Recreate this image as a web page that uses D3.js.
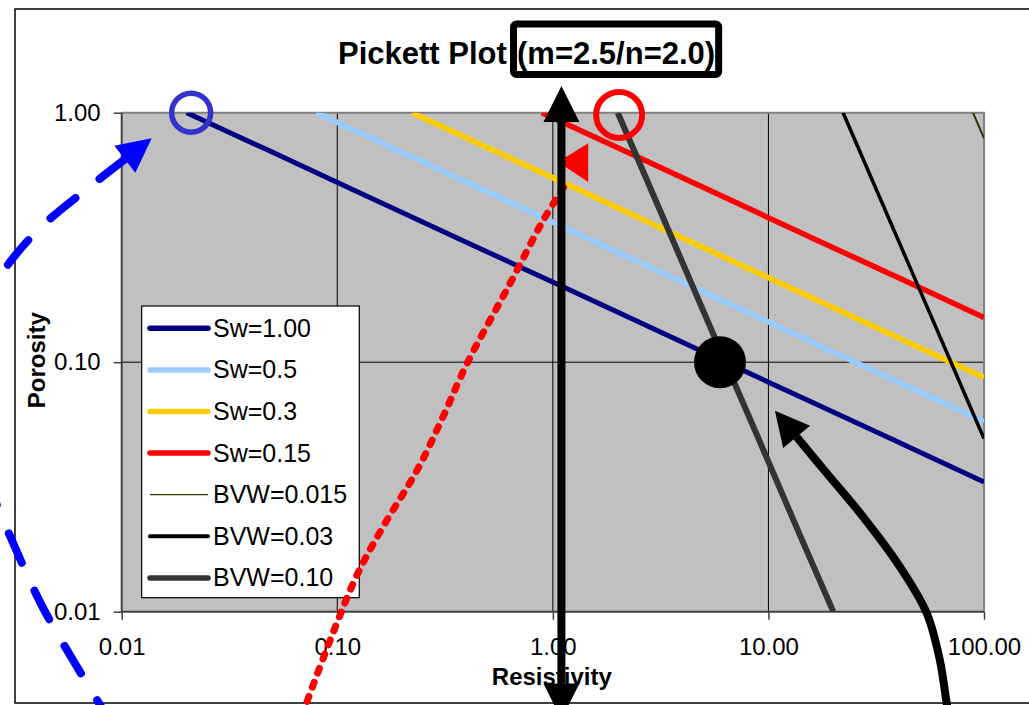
<!DOCTYPE html>
<html><head><meta charset="utf-8">
<script src="https://cdn.jsdelivr.net/npm/d3@7"></script>
<style>
html,body{margin:0;padding:0;background:#fff;}
svg{display:block;font-family:"Liberation Sans",Arial,sans-serif;}
</style></head><body>
<svg id="chart" width="1029" height="705"></svg>
<script>
// Pickett plot (m = 2.5, n = 2.0, Rw = 0.02): porosity vs. true resistivity, log-log

const resistivityTicks = [0.01, 0.1, 1, 10, 100];
const resistivityLabels = ["0.01", "0.10", "1.00", "10.00", "100.00"];
const porosityTicks = [0.01, 0.1, 1];
const porosityLabels = ["0.01", "0.10", "1.00"];

const seriesNames = ["Sw=1.00", "Sw=0.5", "Sw=0.3", "Sw=0.15", "BVW=0.015", "BVW=0.03", "BVW=0.10"];

// [resistivity, porosity] pairs for each line
const sw100 = [[0.02,1.0],[0.049,0.7],[0.113,0.5],[0.406,0.3],[1.12,0.2],[2.3,0.15],[6.32,0.1],[15.4,0.07],[35.8,0.05],[100,0.0331]];
const sw050 = [[0.08,1.0],[0.195,0.7],[0.453,0.5],[1.62,0.3],[4.47,0.2],[9.18,0.15],[25.3,0.1],[61.7,0.07],[100,0.0577]];
const sw030 = [[0.222,1.0],[0.542,0.7],[1.26,0.5],[4.51,0.3],[12.4,0.2],[25.5,0.15],[70.3,0.1],[100,0.0869]];
const sw015 = [[0.889,1.0],[2.17,0.7],[5.03,0.5],[18.0,0.3],[49.7,0.2],[100,0.151]];
const bvw0015 = [[88.9,1.0],[100,0.79]];
const bvw003 = [[22.2,1.0],[31.4,0.5],[49.7,0.2],[70.3,0.1],[100,0.0494]];
const bvw010 = [[2.0,1.0],[2.83,0.5],[4.47,0.2],[6.32,0.1],[8.94,0.05],[14.1,0.02],[20.0,0.01]];

const seriesData = [sw100, sw050, sw030, sw015, bvw0015, bvw003, bvw010];
const seriesColors = ["#000080", "#99CCFF", "#FFCC00", "#FF0000", "#333300", "#000000", "#333333"];
const seriesWidths = [5, 5.5, 5.5, 5.5, 2, 3.5, 6];
const legendWidths = [5.5, 5.5, 5.5, 5.5, 1.2, 4, 5.5];

// annotation marks, also in [resistivity, porosity]
const rwCircleAt = [0.021, 1.0];
const bvwCircleAt = [2.03, 0.98];
const matchPointAt = [5.96, 0.1];
const rwArrowEnds = [[1.096, 1.28], [1.096, 0.0037]];
const blueCurve = [[0.00864,0.00375],[0.00594,0.0064],[0.00431,0.01039],[0.00327,0.01735],[0.0024,0.0337],[0.00198,0.0739],[0.00216,0.1476],[0.00273,0.2216],[0.00409,0.3388],[0.00728,0.5132],[0.01377,0.7895]];
const redCurve = [[0.0686,0.00385],[0.0955,0.00822],[0.1247,0.01429],[0.163,0.0219],[0.235,0.037],[0.309,0.0603],[0.401,0.0993],[0.635,0.2077],[0.904,0.3715],[1.18,0.537]];
const redFlag = [[1.459,0.754],[1.459,0.5274],[1.056,0.6344]];
const blackCurve = [[69.5,0.00368],[67.1,0.00431],[62.4,0.0064],[54.2,0.00988],[40.7,0.01515],[26.6,0.02486],[18.6,0.03596],[10.72,0.0639]];

const titleMain = "Pickett Plot";
const titleParams = "(m=2.5/n=2.0)";

const svg = d3.select("#chart");
const x = d3.scaleLog().domain([0.01, 100]).range([121.7, 984]);
const y = d3.scaleLog().domain([0.01, 1]).range([611.7, 112.7]);
const [x0, x1] = x.range();
const [y1, y0] = y.range();
const P = d => [x(d[0]), y(d[1])];

// chart frame
svg.append("path").attr("d", "M1100,9H15V703H1100").attr("fill", "none").attr("stroke", "#000").attr("stroke-width", 1.5);

// plot area
svg.append("rect").attr("x", x0).attr("y", y0).attr("width", x1 - x0).attr("height", y1 - y0).attr("fill", "#C0C0C0");
svg.append("clipPath").attr("id", "plotClip").append("rect")
  .attr("x", x0).attr("y", y0).attr("width", x1 - x0).attr("height", y1 - y0);

const grid = svg.append("g").attr("stroke", "#000").attr("stroke-width", 1);
resistivityTicks.slice(1, -1).forEach(v => grid.append("line").attr("x1", x(v)).attr("x2", x(v)).attr("y1", y0).attr("y2", y1));
porosityTicks.slice(1, -1).forEach(v => grid.append("line").attr("y1", y(v)).attr("y2", y(v)).attr("x1", x0).attr("x2", x1));

// plot border
svg.append("path").attr("d", `M${x0},${y0}H${x1}V${y1}`).attr("fill", "none").attr("stroke", "#808080").attr("stroke-width", 2);
svg.append("path").attr("d", `M${x0},${y0}V${y1}H${x1}`).attr("fill", "none").attr("stroke", "#404040").attr("stroke-width", 2);

// series
const line = d3.line().x(d => x(d[0])).y(d => y(d[1]));
const lines = svg.append("g").attr("clip-path", "url(#plotClip)");
seriesData.forEach((s, i) => {
  lines.append("path").attr("d", line(s)).attr("fill", "none")
    .attr("stroke", seriesColors[i]).attr("stroke-width", seriesWidths[i]).attr("stroke-linejoin", "round");
});

// axes
const ax = svg.append("g").attr("transform", `translate(0,${y1})`)
  .call(d3.axisBottom(x).tickValues(resistivityTicks).tickFormat((d, i) => resistivityLabels[i]).tickSize(8).tickPadding(18));
const ay = svg.append("g").attr("transform", `translate(${x0},0)`)
  .call(d3.axisLeft(y).tickValues(porosityTicks).tickFormat((d, i) => porosityLabels[i]).tickSize(8).tickPadding(13));
[ax, ay].forEach(g => {
  g.select(".domain").remove();
  g.selectAll(".tick line").attr("stroke", "#404040").attr("stroke-width", 1.5);
  g.selectAll(".tick text").attr("font-size", 24).attr("fill", "#000").attr("font-family", "Liberation Sans, Arial, sans-serif");
});

svg.append("text").attr("x", (x0 + x1) / 2 - 1).attr("y", 685).attr("text-anchor", "middle")
  .attr("font-size", 24).attr("font-weight", "bold").text("Resistivity");
svg.append("text").attr("transform", `translate(45,${(y0 + y1) / 2 - 2}) rotate(-90)`).attr("text-anchor", "middle")
  .attr("font-size", 24).attr("font-weight", "bold").text("Porosity");

// legend
const legend = svg.append("g");
legend.append("rect").attr("x", 141.7).attr("y", 306).attr("width", 217.6).attr("height", 291.7)
  .attr("fill", "#fff").attr("stroke", "#000").attr("stroke-width", 1.2);
seriesNames.forEach((name, i) => {
  const ly = 328.3 + i * 41.6;
  legend.append("line").attr("x1", 150).attr("x2", 208).attr("y1", ly).attr("y2", ly)
    .attr("stroke", seriesColors[i]).attr("stroke-width", legendWidths[i]).attr("stroke-linecap", i === 4 ? "butt" : "round");
  legend.append("text").attr("x", 213).attr("y", ly + 8.5).attr("font-size", 25).attr("fill", "#000").text(name);
});

// arrow helpers
function arrowHead(tip, from, len, wid) {
  const dx = tip[0] - from[0], dy = tip[1] - from[1];
  const L = Math.hypot(dx, dy), ux = dx / L, uy = dy / L;
  const base = [tip[0] - ux * len, tip[1] - uy * len];
  const tri = [tip, [base[0] - uy * wid / 2, base[1] + ux * wid / 2], [base[0] + uy * wid / 2, base[1] - ux * wid / 2]];
  return { base, tri };
}
const curveLine = d3.line().curve(d3.curveCatmullRom.alpha(0.5));

// red dotted line with flag
svg.append("path").attr("d", curveLine(redCurve.map(P))).attr("fill", "none")
  .attr("stroke", "#FF0000").attr("stroke-width", 7).attr("stroke-dasharray", "5,10").attr("stroke-linecap", "round");
svg.append("path").attr("d", "M" + redFlag.map(P).join("L") + "Z").attr("fill", "#FF0000");

// vertical Rw arrow (double-headed)
{
  const a = P(rwArrowEnds[0]), b = P(rwArrowEnds[1]);
  const top = arrowHead(a, b, 36, 36), bot = arrowHead(b, a, 36, 36);
  svg.append("line").attr("x1", top.base[0]).attr("y1", top.base[1]).attr("x2", bot.base[0]).attr("y2", bot.base[1])
    .attr("stroke", "#000").attr("stroke-width", 8);
  [top, bot].forEach(h => svg.append("path").attr("d", "M" + h.tri.join("L") + "Z").attr("fill", "#000"));
}

// circles and match point
svg.append("circle").attr("cx", x(rwCircleAt[0])).attr("cy", y(rwCircleAt[1])).attr("r", 19.5)
  .attr("fill", "none").attr("stroke", "#3333CC").attr("stroke-width", 5.5);
svg.append("circle").attr("cx", x(bvwCircleAt[0])).attr("cy", y(bvwCircleAt[1])).attr("r", 23)
  .attr("fill", "none").attr("stroke", "#FF0000").attr("stroke-width", 6);
svg.append("circle").attr("cx", x(matchPointAt[0])).attr("cy", y(matchPointAt[1])).attr("r", 26).attr("fill", "#000");

// curved black arrow
{
  const pts = blackCurve.map(P);
  const tip = pts[pts.length - 1];
  const h = arrowHead(tip, pts[pts.length - 2], 34, 35);
  const body = pts.slice(0, -1).concat([h.base]);
  svg.append("path").attr("d", curveLine(body)).attr("fill", "none").attr("stroke", "#000").attr("stroke-width", 8);
  svg.append("path").attr("d", "M" + h.tri.join("L") + "Z").attr("fill", "#000");
}

// dashed blue arrow
{
  const pts = blueCurve.map(P);
  const tip = pts[pts.length - 1];
  const h = arrowHead(tip, pts[pts.length - 2], 34, 34);
  const body = [h.base].concat(pts.slice(0, -1).reverse());
  svg.append("path").attr("d", curveLine(body)).attr("fill", "none").attr("stroke", "#0000FF")
    .attr("stroke-width", 8).attr("stroke-dasharray", "32,31").attr("stroke-linecap", "round");
  svg.append("path").attr("d", "M" + h.tri.join("L") + "Z").attr("fill", "#0000FF");
}

// title
svg.append("text").attr("x", 338).attr("y", 64).attr("font-size", 31).attr("font-weight", "bold").text(titleMain);
const params = svg.append("text").attr("x", 517).attr("y", 64).attr("font-size", 31).attr("font-weight", "bold").text(titleParams);
const bb = params.node().getBBox();
svg.insert("rect", () => params.node())
  .attr("x", bb.x - 3.5).attr("y", bb.y - 12).attr("width", bb.width + 7).attr("height", bb.height + 15.5)
  .attr("rx", 3).attr("fill", "#fff").attr("stroke", "#000").attr("stroke-width", 7);
</script>
</body></html>
